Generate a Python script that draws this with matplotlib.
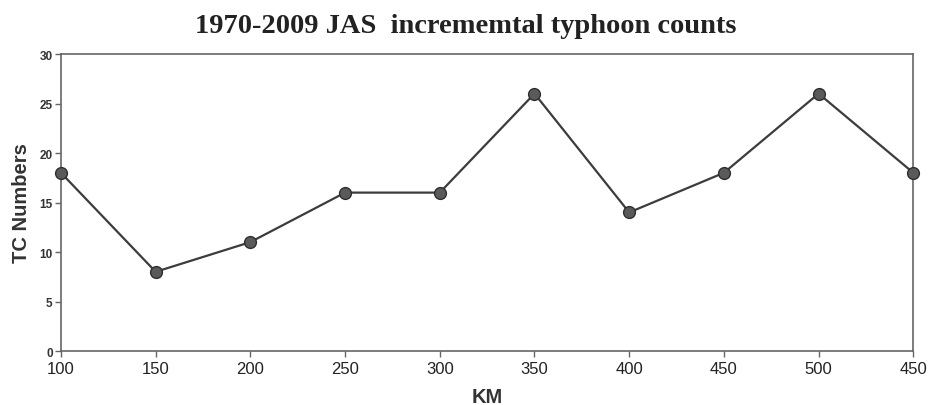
import matplotlib.pyplot as plt
import numpy as np

# incremental typhoon counts, JAS 1970-2009
km_labels = ["100", "150", "200", "250", "300", "350", "400", "450", "500", "450"]
tc_counts = [18, 8, 11, 16, 16, 26, 14, 18, 26, 18]

x = np.arange(len(km_labels))

fig = plt.figure(figsize=(9.31, 4.06), dpi=100)
ax = fig.add_axes([0.0655, 0.133, 0.9155, 0.7315])

ax.plot(x, tc_counts, color="#3c3c3c", lw=1.6, marker="o", ms=8.5,
        mfc="#5a5a5a", mec="#2e2e2e", mew=1.0, clip_on=False, zorder=3)

ax.set_xlim(0, len(km_labels) - 1)
ax.set_ylim(0, 30)
ax.set_xticks(x)
ax.set_xticklabels(km_labels, fontsize=12, family="Liberation Sans", color="#222222")
ax.set_yticks(range(0, 31, 5))
for t in ax.get_yticklabels():
    t.set_fontsize(8.5)
    t.set_fontweight("bold")
    t.set_family(["Liberation Sans Narrow", "Liberation Sans"])
    t.set_color("#333333")

for s in ax.spines.values():
    s.set_color("#666666")
    s.set_linewidth(1.2)
ax.tick_params(axis="both", direction="out", length=4, width=1, color="#666666")
ax.tick_params(axis="x", pad=3)
ax.tick_params(axis="y", pad=2)

ax.set_xlabel("KM", fontsize=14.5, fontweight="bold", family="Liberation Sans",
              color="#333333", labelpad=8)
ax.set_ylabel("TC Numbers", fontsize=14.5, fontweight="bold", family="Liberation Sans",
              color="#333333", labelpad=6)

fig.text(0.5, 0.935, "1970-2009 JAS  incrememtal typhoon counts", ha="center",
         va="center", fontsize=20.5, fontweight="bold", family="Liberation Serif",
         color="#222222")

fig.savefig("out.png", dpi=100)
